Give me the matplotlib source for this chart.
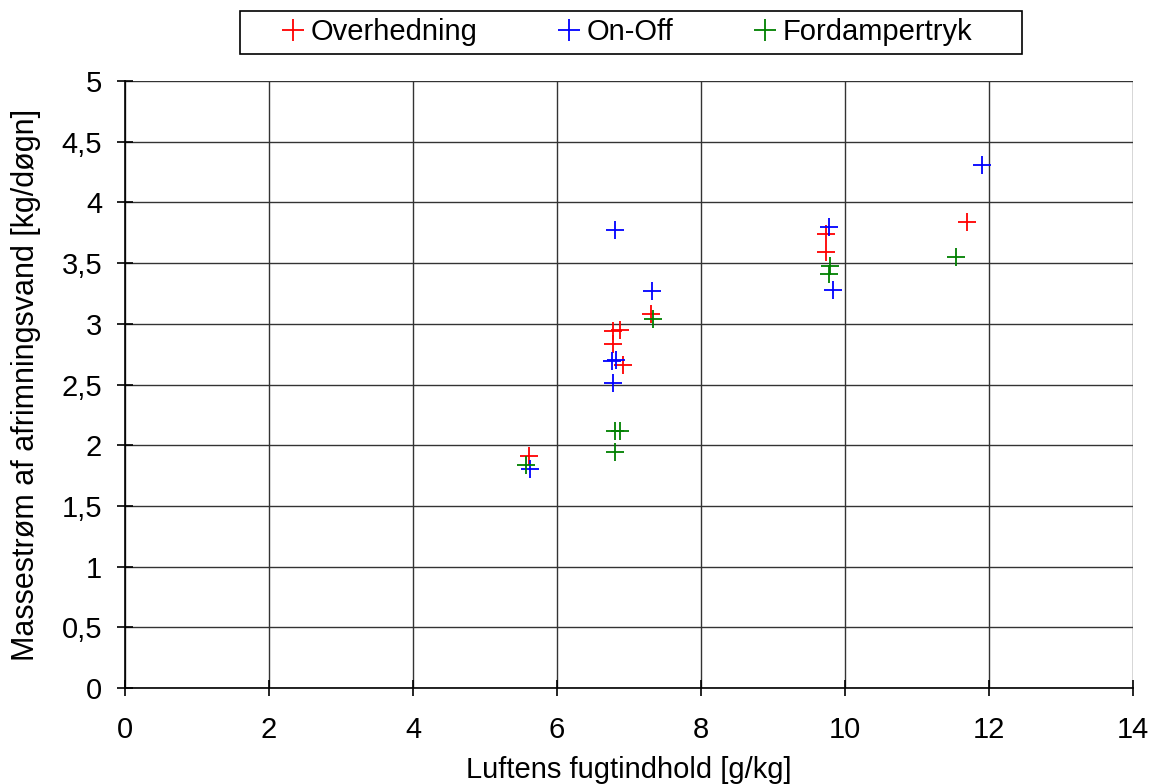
import matplotlib
matplotlib.use("Agg")
import matplotlib.pyplot as plt
from matplotlib.patches import Rectangle
from matplotlib.ticker import FuncFormatter

plt.rcParams['font.family'] = ['Liberation Sans', 'DejaVu Sans']

over_x = [5.61, 6.78, 6.88, 6.78, 6.91, 7.31, 9.74, 9.74, 11.70]
over_y = [1.91, 2.94, 2.95, 2.83, 2.66, 3.08, 3.74, 3.59, 3.84]
onoff_x = [5.63, 6.81, 6.76, 6.82, 6.78, 7.32, 9.78, 9.84, 11.90]
onoff_y = [1.80, 3.77, 2.69, 2.70, 2.51, 3.27, 3.80, 3.28, 4.31]
ford_x = [5.57, 6.80, 6.88, 6.81, 7.33, 9.79, 9.78, 11.54]
ford_y = [1.84, 2.12, 2.12, 1.94, 3.04, 3.48, 3.41, 3.55]

W, H = 1151, 784
fig = plt.figure(figsize=(W/100, H/100), dpi=100)
ax = fig.add_axes([125/W, 1-688/H, (1133-125)/W, (688-81)/H])

ms = 13
ax.plot(over_x, over_y, '+', color='#ff0000', ms=ms, mew=1.3, label='Overhedning', clip_on=False, zorder=3)
ax.plot(onoff_x, onoff_y, '+', color='#0000ff', ms=ms, mew=1.3, label='On-Off', clip_on=False, zorder=3)
ax.plot(ford_x, ford_y, '+', color='#008000', ms=ms, mew=1.3, label='Fordampertryk', clip_on=False, zorder=3)

ax.set_xlim(0, 14)
ax.set_ylim(0, 5)
ax.set_xticks(range(0, 15, 2))
ax.set_yticks([i*0.5 for i in range(11)])
ax.yaxis.set_major_formatter(FuncFormatter(lambda v, p: ('%g' % v).replace('.', ',')))
ax.grid(True, color='#333333', linewidth=1)
ax.set_axisbelow(True)
for s in ['top', 'right']:
    ax.spines[s].set_visible(False)
for s in ['left', 'bottom']:
    ax.spines[s].set_color('black')
    ax.spines[s].set_linewidth(1.2)
ax.tick_params(labelsize=21, length=12, width=1.2, direction='inout')
ax.tick_params(axis='x', pad=14)
ax.tick_params(axis='y', pad=10.5)
ax.set_xlabel('Luftens fugtindhold [g/kg]', fontsize=21, labelpad=9)
ax.set_ylabel('Massestrøm af afrimningsvand [kg/døgn]', fontsize=22, labelpad=15)

# legend frame
fig.add_artist(Rectangle((240/W, 1-54/H), (1022-240)/W, 43/H, transform=fig.transFigure,
                         facecolor='white', edgecolor='black', linewidth=1.2, zorder=1))
leg = fig.legend(loc='center left', bbox_to_anchor=(275.5/W, 1-32.5/H), ncol=3,
                 fontsize=21, frameon=False,
                 handlelength=1.2, handletextpad=0.0, columnspacing=2.55,
                 borderpad=0, borderaxespad=0, markerscale=1.25)
leg.set_zorder(2)

fig.savefig('out.png', dpi=100, facecolor='white')
